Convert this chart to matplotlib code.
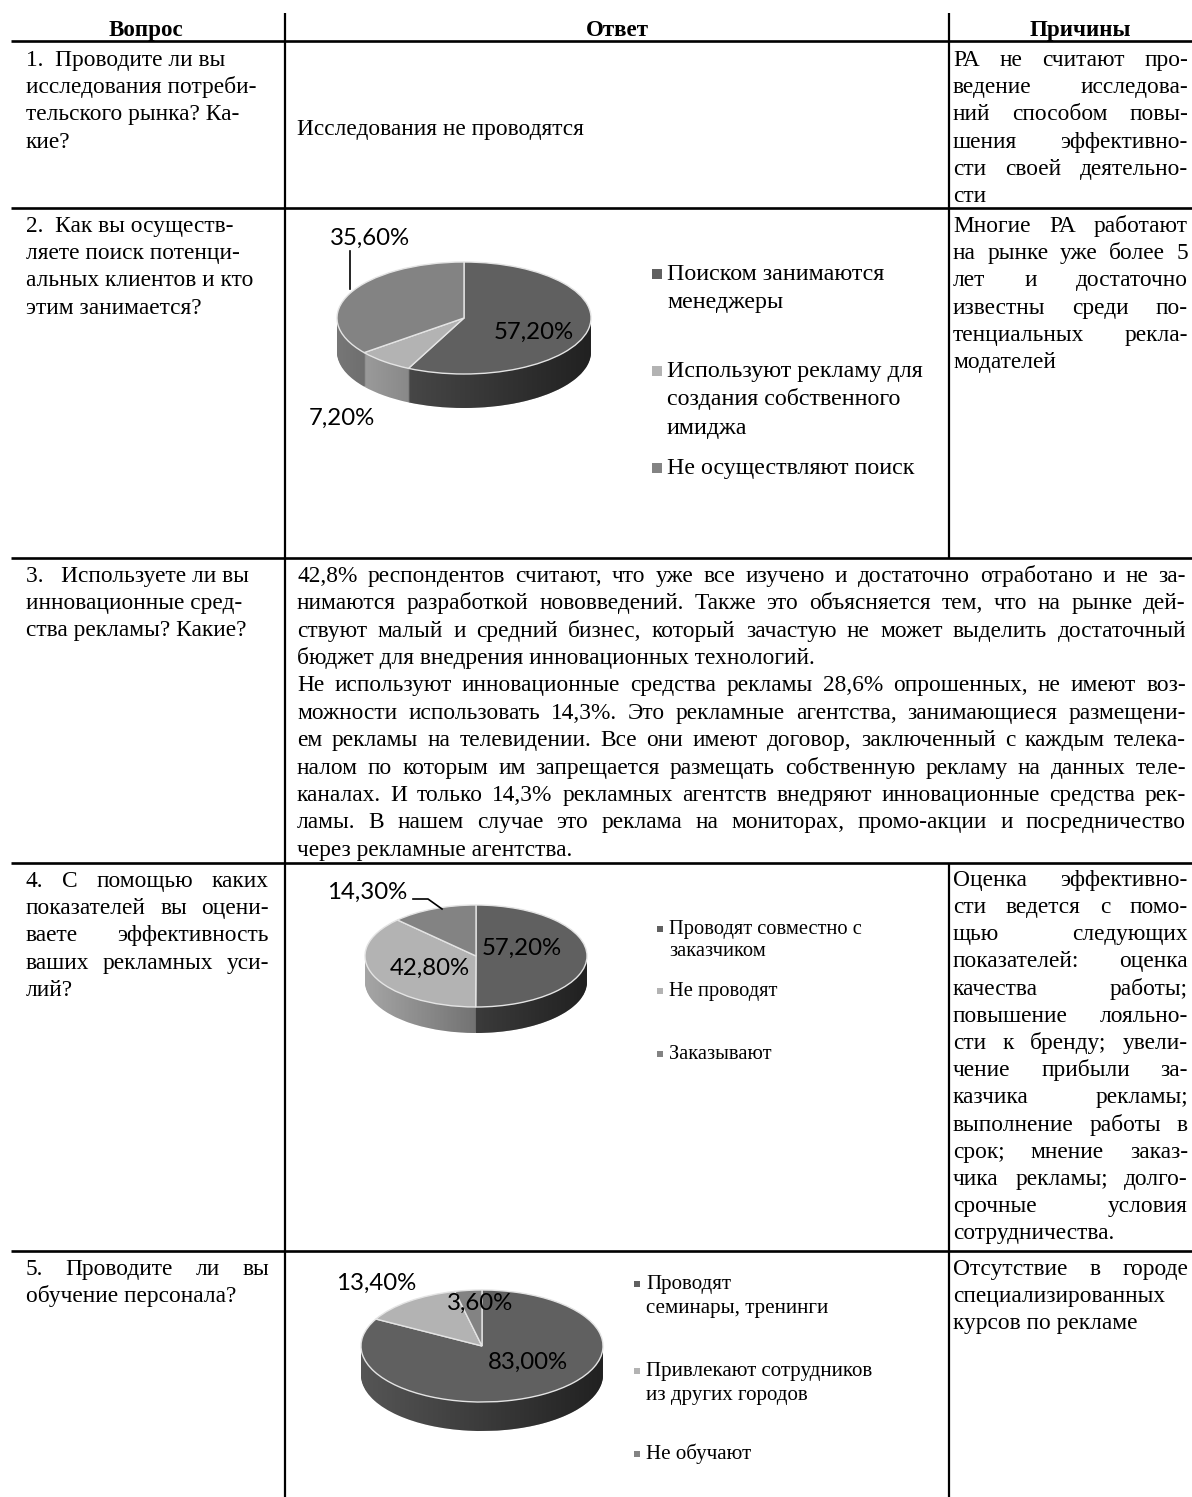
import numpy as np
import matplotlib
matplotlib.use("Agg")
import matplotlib.pyplot as plt
from matplotlib.path import Path
from matplotlib.patches import PathPatch

# ---------------- data ----------------
header_labels = ["Вопрос", "Ответ", "Причины"]

q1_lines = ["1.  Проводите ли вы", "исследования потреби-", "тельского рынка? Ка-", "кие?"]
a1_text = "Исследования не проводятся"
r1_lines = ["РА не считают про-", "ведение исследова-", "ний способом повы-",
            "шения эффективно-", "сти своей деятельно-", "сти"]

q2_lines = ["2.  Как вы осуществ-", "ляете поиск потенци-", "альных клиентов и кто", "этим занимается?"]
r2_lines = ["Многие РА работают", "на рынке уже более 5", "лет и достаточно",
            "известны среди по-", "тенциальных рекла-", "модателей"]
pie2_values = [57.2, 7.2, 35.6]
pie2_legend = ["Поиском занимаются\nменеджеры",
               "Используют рекламу для\nсоздания собственного\nимиджа",
               "Не осуществляют поиск"]

q3_lines = ["3.   Используете ли вы", "инновационные сред-", "ства рекламы? Какие?"]
a3_lines = [
    "42,8% респондентов считают, что уже все изучено и достаточно отработано и не за-",
    "нимаются разработкой нововведений. Также это объясняется тем, что на рынке дей-",
    "ствуют малый и средний бизнес, который зачастую не может выделить достаточный",
    "бюджет для внедрения инновационных технологий.",
    "Не используют инновационные средства рекламы 28,6% опрошенных, не имеют воз-",
    "можности использовать 14,3%. Это рекламные агентства, занимающиеся размещени-",
    "ем рекламы на телевидении. Все они имеют договор, заключенный с каждым телека-",
    "налом по которым им запрещается размещать собственную рекламу на данных теле-",
    "каналах. И только 14,3% рекламных агентств внедряют инновационные средства рек-",
    "ламы. В нашем случае это реклама на мониторах, промо-акции и посредничество",
    "через рекламные агентства.",
]
a3_par_end = [3, 10]

q4_lines = ["4. С помощью каких", "показателей вы оцени-", "ваете эффективность",
            "ваших рекламных уси-", "лий?"]
r4_lines = ["Оценка эффективно-", "сти ведется с помо-", "щью следующих",
            "показателей: оценка", "качества работы;", "повышение лояльно-",
            "сти к бренду; увели-", "чение прибыли за-", "казчика рекламы;",
            "выполнение работы в", "срок; мнение заказ-", "чика рекламы; долго-",
            "срочные условия", "сотрудничества."]
pie4_values = [57.2, 42.8, 14.3]
pie4_legend = ["Проводят совместно с\nзаказчиком", "Не проводят", "Заказывают"]

q5_lines = ["5. Проводите ли вы", "обучение персонала?"]
r5_lines = ["Отсутствие в городе", "специализированных", "курсов по рекламе"]
pie5_values = [83.0, 13.4, 3.6]
pie5_legend = ["Проводят\nсеминары, тренинги", "Привлекают сотрудников\nиз других городов", "Не обучают"]

# ---------------- figure ----------------
W, H = 1192, 1497
DPI = 100
fig = plt.figure(figsize=(W / DPI, H / DPI), dpi=DPI)
ax = fig.add_axes([0, 0, 1, 1])
ax.set_xlim(0, W)
ax.set_ylim(H, 0)
ax.axis("off")
ax.patch.set_visible(False)
ax.set_zorder(10)
renderer = fig.canvas.get_renderer()

SERIF = "Liberation Serif"
SANS = "Lato"
BODY = 23.4
STEP = 27.3
LBL = 24


def pt(px):
    return px * 72.0 / DPI


def fmt(v):
    return ("%.2f%%" % v).replace(".", ",")


# ---------------- table grid ----------------
LINE_Y = [41, 208, 558, 863, 1251]
for y in LINE_Y:
    ax.plot([11, W], [y, y], color="black", lw=1.9, solid_capstyle="butt")
ax.plot([285, 285], [13, H], color="black", lw=1.6, solid_capstyle="butt")
ax.plot([949, 949], [13, 558], color="black", lw=1.6, solid_capstyle="butt")
ax.plot([949, 949], [863, H], color="black", lw=1.6, solid_capstyle="butt")

# ---------------- text helpers ----------------
def put(x, y, s, size=BODY, weight="normal", ha="left", family=SERIF):
    return ax.text(x, y + 0.29 * size, s, fontsize=pt(size), family=family,
                   weight=weight, ha=ha, va="baseline", color="black")


def put_just(x0, x1, y, s, size=BODY):
    words = s.split(" ")
    if len(words) < 2:
        put(x0, y, s, size)
        return
    txts = [put(0, y, w, size) for w in words]
    widths = [t.get_window_extent(renderer).width for t in txts]
    gap = (x1 - x0 - sum(widths)) / (len(words) - 1)
    gap = max(gap, 0.12 * size)
    x = x0
    for t, w in zip(txts, widths):
        t.set_x(x)
        x += w + gap


def block(lines, x0, x1, y0, step=STEP, size=BODY, justify=True, last_left=(None,)):
    n = len(lines)
    for i, s in enumerate(lines):
        y = y0 + i * step
        if justify and i != n - 1 and i not in last_left:
            put_just(x0, x1, y, s, size)
        else:
            put(x0, y, s, size)


C1 = (26, 269)
C2 = (297, 1186)
C3 = (953, 1188)

# header
put(146, 29, header_labels[0], size=23, weight="bold", ha="center")
put(617, 29, header_labels[1], size=23, weight="bold", ha="center")
put(1080, 29, header_labels[2], size=23, weight="bold", ha="center")

# row 1
block(q1_lines, *C1, 59, justify=False)
put(C2[0], 128, a1_text)
block(r1_lines, *C3, 59)

# row 2
block(q2_lines, *C1, 225, justify=False)
block(r2_lines, *C3, 225)

# row 3
block(q3_lines, *C1, 575, justify=False)
block(a3_lines, *C2, 575, step=27.4, last_left=a3_par_end)

# row 4
block(q4_lines, *C1, 880)
block(r4_lines, *C3, 879, step=27.2)

# row 5
block(q5_lines, *C1, 1268)
block(r5_lines, *C3, 1268)

# ---------------- 3D pies ----------------
TOP = ["#606060", "#b3b3b3", "#838383"]
SIDE = ["#585858", "#aaaaaa", "#7a7a7a"]


def pie3d(values, cx, cy, a, b, depth):
    pad = 4
    x0, x1 = cx - a - pad, cx + a + pad
    ytop, ybot = cy - b - pad, cy + b + depth + pad
    pax = fig.add_axes([x0 / W, 1 - ybot / H, (x1 - x0) / W, (ybot - ytop) / H])
    d = depth / b
    for k in range(depth, 0, -1):
        pax.pie(values, radius=1, center=(0, -k / b), startangle=90, counterclock=False,
                colors=SIDE, wedgeprops=dict(linewidth=0, zorder=1))
    # shading gradient over the side
    u = np.linspace(0, 1, 256)
    grad = np.zeros((2, 256, 4))
    grad[..., 3] = 0.03 + 0.6 * u
    im = pax.imshow(grad, extent=(-1, 1, -1 - d, 0.0), aspect="auto", zorder=2,
                    interpolation="bilinear")
    t = np.linspace(np.pi, 2 * np.pi, 100)
    px = np.concatenate([np.cos(t), np.cos(t[::-1])])
    py = np.concatenate([np.sin(t), np.sin(t[::-1]) - d])
    clip = PathPatch(Path(np.column_stack([px, py])), transform=pax.transData,
                     facecolor="none", edgecolor="none")
    im.set_clip_path(clip)
    pax.pie(values, radius=1, center=(0, 0), startangle=90, counterclock=False,
            colors=TOP, wedgeprops=dict(linewidth=1.0, edgecolor="#e4e4e4", zorder=3))
    pax.set_aspect("auto")
    pax.set_xlim(-(a + pad) / a, (a + pad) / a)
    pax.set_ylim(-(b + depth + pad) / b, (b + pad) / b)
    pax.axis("off")
    return pax


def legend(entries, mx, tx, y_starts, step, size, msize):
    for i, (lab, y0) in enumerate(zip(entries, y_starts)):
        ax.plot([mx], [y0 + 0.5], marker="s", ms=msize, color=TOP[i], mew=0, ls="none")
        for j, ln in enumerate(lab.split("\n")):
            put(tx, y0 + j * step, ln, size=size)


# pie 2
pie3d(pie2_values, 464, 318, 127, 56, 34)
put(370, 238, fmt(pie2_values[2]), size=LBL, ha="center", family=SANS)
ax.plot([350, 350], [251, 289], color="black", lw=1.2)
put(342, 418, fmt(pie2_values[1]), size=LBL, ha="center", family=SANS)
put(534, 332, fmt(pie2_values[0]), size=LBL, ha="center", family=SANS)
legend(pie2_legend, 657, 667, [273, 370, 467], 28.5, 24, 6.5)

# pie 4
pie3d(pie4_values, 476, 956, 111, 51, 26)
put(367, 892, fmt(pie4_values[2]), size=LBL, ha="center", family=SANS)
ax.plot([413, 428, 442], [899, 899, 909], color="black", lw=1.2)
put(522, 948, fmt(pie4_values[0]), size=LBL, ha="center", family=SANS)
put(430, 968, fmt(pie4_values[1]), size=LBL, ha="center", family=SANS)
legend(pie4_legend, 660, 669, [928, 990, 1053], 22.5, 20.5, 5)

# pie 5
pie3d(pie5_values, 482, 1346, 121, 56, 29)
put(376, 1283, fmt(pie5_values[1]), size=LBL, ha="center", family=SANS)
put(480, 1303, fmt(pie5_values[2]), size=LBL, ha="center", family=SANS)
put(528, 1362, fmt(pie5_values[0]), size=LBL, ha="center", family=SANS)
legend(pie5_legend, 637, 646, [1283, 1370, 1453], 23.5, 21, 5)

fig.savefig("out.png", dpi=DPI, facecolor="white")
